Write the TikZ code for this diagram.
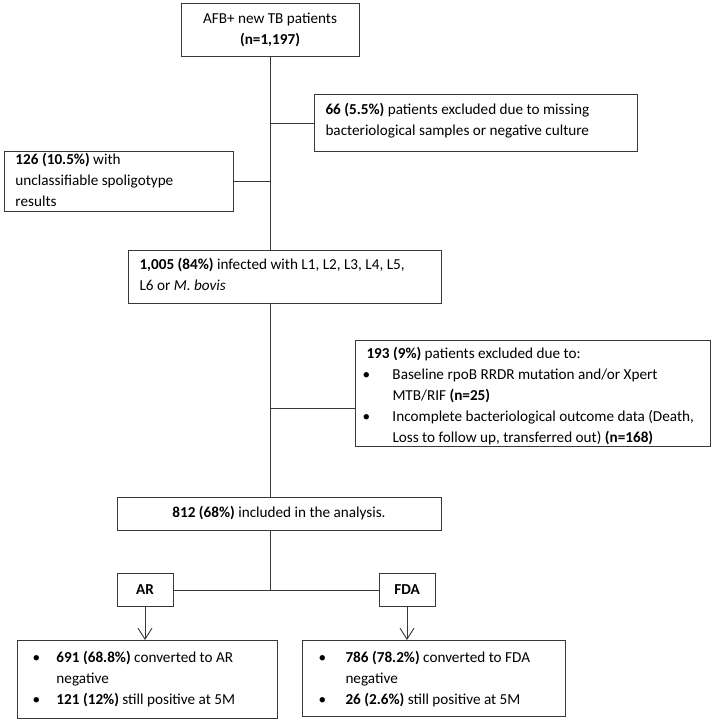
\documentclass[tikz,border=0pt]{standalone}
\usepackage{fontspec}
\setmainfont{Carlito}
\usetikzlibrary{arrows.meta}
\newcommand{\boxtext}[4]{\parbox[c][#1][t]{#2}{\vspace*{#3}\raggedright #4}}
\newcommand{\bitem}[3]{\par\noindent\hangindent=#2\hangafter=1\makebox[#2][l]{\hspace*{#1}\textbullet}#3}
\begin{document}
\begin{tikzpicture}[x=1pt,y=-1pt,
  box/.style={draw=black!78, line width=1pt, inner ysep=0pt, inner xsep=11pt, font=\fontsize{15.2}{21}\selectfont},
  conn/.style={draw=black!78, line width=0.9pt},
  arr/.style={conn, -{Straight Barb[length=11pt,width=14pt]}}]
\useasboundingbox (0,0) rectangle (714,726);
\fill[white] (0,0) rectangle (714,726);

\node[box, align=center, minimum width=178pt, minimum height=53pt] (top) at (270,29.5)
  {AFB+ new TB patients\\\textbf{(n=1,197)}};

\node[box, anchor=north west] (ex1) at (314,94)
  {\boxtext{57pt}{301pt}{9pt}{\textbf{66 (5.5\%)} patients excluded due to missing\newline bacteriological samples or negative culture}};

\node[box, anchor=north west] (ex2) at (4,151)
  {\boxtext{60pt}{207pt}{2pt}{\textbf{126 (10.5\%)} with\newline unclassifiable spoligotype\newline results}};

\node[box, anchor=north west] (inf) at (128,250)
  {\boxtext{53pt}{291pt}{8pt}{\textbf{1,005 (84\%)} infected with L1, L2, L3, L4, L5,\newline L6 or \textit{M. bovis}}};

\node[box, anchor=north west] (ex3) at (355,340)
  {\boxtext{106pt}{333pt}{7pt}{\textbf{193 (9\%)} patients excluded due to:
   \bitem{-4pt}{26pt}{\mbox{Baseline rpoB RRDR mutation and/or Xpert}\newline MTB/RIF \textbf{(n=25)}}
   \bitem{-4pt}{26pt}{\mbox{Incomplete bacteriological outcome data (Death,}\newline \mbox{Loss to follow up, transferred out) \textbf{(n=168)}}}}};

\node[box, align=center, minimum width=324pt, minimum height=33pt] (inc) at (279,513.5)
  {\textbf{812 (68\%)} included in the analysis.};

\node[box, align=center, minimum width=56pt, minimum height=33pt, inner xsep=2pt] (ar) at (145,590)
  {\textbf{AR}};
\node[box, align=center, minimum width=56pt, minimum height=33pt, inner xsep=2pt] (fda) at (407,590)
  {\textbf{FDA}};

\node[box, anchor=north west, inner xsep=0pt] (bl) at (17,640)
  {\boxtext{78pt}{260pt}{11pt}{\bitem{15pt}{39pt}{\textbf{691 (68.8\%)} converted to AR\newline negative}
   \bitem{15pt}{39pt}{\textbf{121 (12\%)} still positive at 5M}}};

\node[box, anchor=north west, inner xsep=0pt] (br) at (302,640)
  {\boxtext{76pt}{263pt}{11pt}{\bitem{16pt}{43pt}{\textbf{786 (78.2\%)} converted to FDA\newline negative}
   \bitem{16pt}{43pt}{\textbf{26 (2.6\%)} still positive at 5M}}};

\coordinate (j) at (top.south |- ar.center);
\draw[conn] (top.south) -- (top.south |- inf.north);
\draw[conn] (top.south |- inf.south) -- (top.south |- inc.north);
\draw[conn] (top.south |- inc.south) -- (j);
\draw[conn] (ex1.west) -- (top.south |- ex1.west);
\draw[conn] (ex2.east) -- (top.south |- ex2.east);
\draw[conn] (top.south |- ex3.west) ++(0,15) -- ([yshift=-15pt]ex3.west);
\draw[conn] (ar.east) -- (fda.west);
\draw[arr] (ar.south) -- (ar.south |- bl.north);
\draw[arr] (fda.south) -- (fda.south |- br.north);
\end{tikzpicture}
\end{document}
